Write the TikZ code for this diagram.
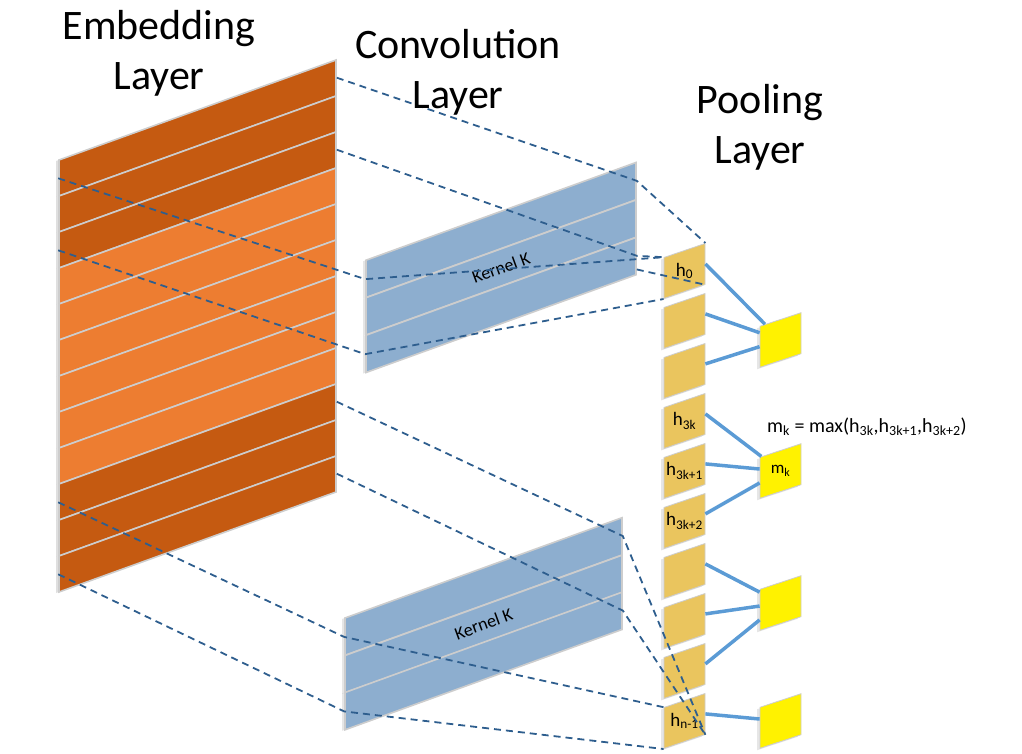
\documentclass[tikz,border=0pt]{standalone}
\usepackage{fontspec}
\setmainfont{Carlito}
\usetikzlibrary{shadows,calc}

\definecolor{embdark}{RGB}{197,90,17}
\definecolor{emblight}{RGB}{237,125,49}
\definecolor{convblue}{RGB}{141,174,207}
\definecolor{poolgold}{RGB}{234,197,94}
\definecolor{dashblue}{RGB}{46,94,142}
\definecolor{linkblue}{RGB}{91,155,213}
\definecolor{edgegray}{RGB}{205,205,205}

\begin{document}
\begin{tikzpicture}[x=1pt, y=-1pt,
    emb_node/.style={draw=edgegray, line width=1.6pt, inner sep=0, yslant=0.361, minimum width=277pt, minimum height=36pt, drop shadow={shadow xshift=-3pt, shadow yshift=-1pt, opacity=0.25}},
    conv_node/.style={fill=convblue, draw=edgegray, line width=1.6pt, inner sep=0, yslant=0.362, minimum height=37.3pt, drop shadow={shadow xshift=-3pt, shadow yshift=-1pt, opacity=0.2}},
    pool_node/.style={fill=poolgold, draw=edgegray, line width=0.8pt, inner sep=0, yslant=0.34, minimum width=41pt, minimum height=41pt, drop shadow={shadow xshift=-3pt, shadow yshift=-2pt, opacity=0.2}},
    max_node/.style={fill=yellow, draw=edgegray, line width=0.8pt, inner sep=0, yslant=0.33, minimum width=41pt, minimum height=41pt, drop shadow={shadow xshift=-3pt, shadow yshift=-2pt, opacity=0.2}},
    title_node/.style={align=center, font=\fontsize{42}{50}\selectfont, inner sep=0},
    label_node/.style={font=\fontsize{19}{22}\selectfont, inner sep=0},
    dash_line/.style={dashblue, line width=1.8pt, dash pattern=on 7pt off 5pt},
    pool_line/.style={linkblue, line width=3.5pt}]
    \useasboundingbox (0,0) rectangle (1022,754);

    \node[emb_node, fill=embdark] (e1) at (197.5,128) {};
    \node[emb_node, fill=embdark] (e2) at (197.5,164) {};
    \node[emb_node, fill=embdark] (e3) at (197.5,200) {};
    \node[emb_node, fill=emblight] (e4) at (197.5,236) {};
    \node[emb_node, fill=emblight] (e5) at (197.5,272) {};
    \node[emb_node, fill=emblight] (e6) at (197.5,308) {};
    \node[emb_node, fill=emblight] (e7) at (197.5,344) {};
    \node[emb_node, fill=emblight] (e8) at (197.5,380) {};
    \node[emb_node, fill=emblight] (e9) at (197.5,416) {};
    \node[emb_node, fill=embdark] (e10) at (197.5,452) {};
    \node[emb_node, fill=embdark] (e11) at (197.5,488) {};
    \node[emb_node, fill=embdark] (e12) at (197.5,524) {};

    \node[conv_node, minimum width=270pt] (c1) at (501,230) {};
    \node[conv_node, minimum width=270pt] (c2) at (501,267.5) {};
    \node[conv_node, minimum width=270pt] (c3) at (501,305) {};
    \node[conv_node, minimum width=277pt] (c4) at (483.5,586.5) {};
    \node[conv_node, minimum width=277pt] (c5) at (483.5,624) {};
    \node[conv_node, minimum width=277pt] (c6) at (483.5,661) {};
    \node[label_node, font=\fontsize{18}{20}\selectfont, rotate=20] (k2) at (501,267.5) {Kernel K};
    \node[label_node, font=\fontsize{18}{20}\selectfont, rotate=20] (k5) at (483.5,624) {Kernel K};

    \node[pool_node] (p1) at (684.5,271) {};
    \node[pool_node] (p2) at (684.5,321) {};
    \node[pool_node] (p3) at (684.5,371) {};
    \node[pool_node] (p4) at (684.5,421) {};
    \node[pool_node] (p5) at (684.5,471) {};
    \node[pool_node] (p6) at (684.5,521) {};
    \node[pool_node] (p7) at (684.5,571) {};
    \node[pool_node] (p8) at (684.5,621) {};
    \node[pool_node] (p9) at (684.5,671) {};
    \node[pool_node] (p10) at (684.5,721) {};
    \node[label_node] (h1) at (p1.center) {h\textsubscript{0}};
    \node[label_node] (h4) at (p4.center) {h\textsubscript{3k}};
    \node[label_node] (h5) at (p5.center) {h\textsubscript{3k+1}};
    \node[label_node] (h6) at (p6.center) {h\textsubscript{3k+2}};
    \node[label_node] (h10) at (p10.center) {h\textsubscript{n-1}};

    \coordinate (k1) at ($(c3.north east)!0.85!(c3.south east)$);
    \draw[dash_line] (e1.east) -- (c1.east) -- (p1.north east);
    \draw[dash_line] (e3.east) -- (c3.east) -- (p1.north west);
    \draw[dash_line] (e1.west) -- (c1.west) -- (p1.north west);
    \draw[dash_line] (e3.west) -- (c3.west) -- (p1.south west);
    \draw[dash_line] (k1) -- (p1.south east);
    \draw[dash_line] (e10.east) -- (c4.east) -- (p10.south east);
    \draw[dash_line] (e12.east) -- (c6.east) -- (p10.south east);
    \draw[dash_line] (e10.west) -- (c4.west) -- (p10.north west);
    \draw[dash_line] (e12.west) -- (c6.west) -- (p10.south west);

    \node[max_node] (m1) at (780.5,340) {};
    \node[max_node] (m2) at (780.5,471) {};
    \node[max_node] (m3) at (780.5,603) {};
    \node[max_node] (m4) at (780.5,721) {};
    \node[label_node, font=\fontsize{17}{20}\selectfont] (mk) at (m2.center) {m\textsubscript{k}};
    \draw[pool_line] (p1.east) -- (m1);
    \draw[pool_line] (p2.east) -- (m1);
    \draw[pool_line] (p3.east) -- (m1);
    \draw[pool_line] (p4.east) -- (m2);
    \draw[pool_line] (p5.east) -- (m2);
    \draw[pool_line] (p6.east) -- (m2);
    \draw[pool_line] (p7.east) -- (m3);
    \draw[pool_line] (p8.east) -- (m3);
    \draw[pool_line] (p9.east) -- (m3);
    \draw[pool_line] (p10.east) -- (m4);

    \node[label_node, font=\fontsize{20}{24}\selectfont] (f1) at (867,427) {m\textsubscript{k} = max(h\textsubscript{3k},h\textsubscript{3k+1},h\textsubscript{3k+2})};
    \node[title_node] (t1) at (159,53) {Embedding\\Layer};
    \node[title_node] (t2) at (458,72) {Convolution\\Layer};
    \node[title_node] (t3) at (760,127) {Pooling\\Layer};
\end{tikzpicture}
\end{document}
